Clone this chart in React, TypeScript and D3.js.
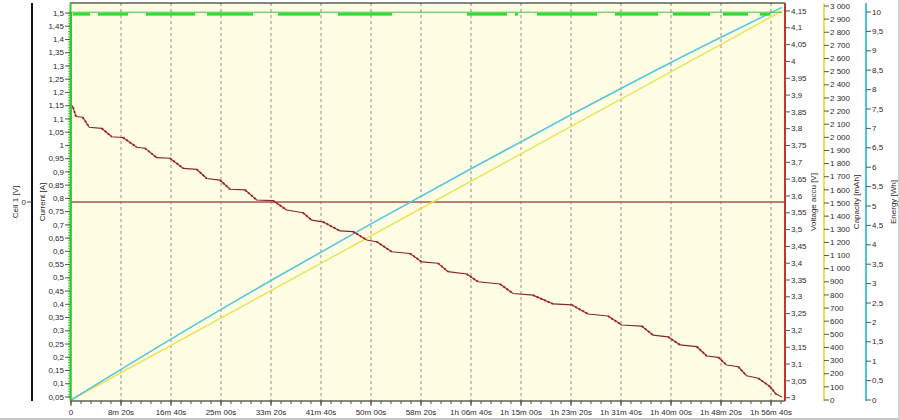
import React from 'react';
import * as d3 from 'd3';

// ---------- data ----------
const timeTickSeconds = [0, 500, 1000, 1500, 2000, 2500, 3000, 3500, 4000, 4500, 5000, 5500, 6000, 6500, 7000];
const timeTickLabels = ['0', '8m 20s', '16m 40s', '25m 00s', '33m 20s', '41m 40s', '50m 00s', '58m 20s', '1h 06m 40s', '1h 15m 00s', '1h 23m 20s', '1h 31m 40s', '1h 40m 00s', '1h 48m 20s', '1h 56m 40s'];

const currentTicks = d3.range(1, 31).map((i) => +(i * 0.05).toFixed(2));
const voltageTicks = d3.range(0, 24).map((i) => +(3 + i * 0.05).toFixed(2));
const capacityTicks = d3.range(0, 31).map((i) => i * 100);
const energyTicks = d3.range(0, 21).map((i) => i * 0.5);
const cellTicks = [0];

// Voltage accu [V] vs time [s]
const voltageTime = [0, 20, 50, 117, 183, 307, 407, 520, 657, 740, 857, 990, 1123, 1257, 1357, 1490, 1590, 1740, 1857, 2020, 2157, 2320, 2407, 2520, 2690, 2820, 2957, 3057, 3207, 3390, 3507, 3670, 3770, 3957, 4070, 4290, 4420, 4620, 4820, 5007, 5170, 5370, 5507, 5707, 5820, 5970, 6090, 6257, 6357, 6473, 6557, 6673, 6757, 6873, 6990, 7050, 7110];
const voltageValue = [3.873, 3.864, 3.836, 3.834, 3.804, 3.801, 3.776, 3.774, 3.745, 3.742, 3.714, 3.712, 3.682, 3.679, 3.652, 3.647, 3.62, 3.618, 3.588, 3.586, 3.558, 3.55, 3.528, 3.523, 3.496, 3.494, 3.469, 3.464, 3.434, 3.429, 3.404, 3.4, 3.375, 3.368, 3.345, 3.338, 3.31, 3.305, 3.279, 3.276, 3.249, 3.243, 3.216, 3.213, 3.186, 3.181, 3.157, 3.152, 3.124, 3.12, 3.097, 3.092, 3.065, 3.058, 3.033, 3.011, 3.002];

// Capacity [mAh]
const capacityTime = [0, 3500, 7110];
const capacityValue = [0, 1458, 2962];

// Energy [Wh]
const energyTime = [0, 1000, 2000, 3000, 4000, 5000, 6000, 7110];
const energyValue = [0, 1.57, 3.08, 4.54, 5.96, 7.35, 8.7, 10.12];

// Current [A]
const currentTime = [0, 5, 7110];
const currentValue = [0.0, 1.503, 1.503];
const currentNoiseStart = [17, 270, 750, 1360, 2070, 2670, 3960, 4440, 4660, 5440, 6020, 6520, 6890];
const currentNoiseEnd = [190, 570, 1240, 1820, 2490, 3210, 4360, 4470, 5260, 5870, 6390, 6770, 6990];
const currentNoiseLow = 1.49;
const currentNoiseHigh = 1.5;

// Cell 1 [V]
const cellTime = [0, 7140];
const cellValue = [0, 0];

// ---------- layout ----------
const W = 900, H = 420;
const L = 71, R = 785, T = 3, B = 401;

const x = d3.scaleLinear().domain([0, 7140]).range([L, R]);
const yCur = d3.scaleLinear().domain([0.05, 1.5]).range([397, 13]);
const yVolt = d3.scaleLinear().domain([3, 4.15]).range([397.7, 11]);
const yCap = d3.scaleLinear().domain([0, 3000]).range([400, 6]);
const yEn = d3.scaleLinear().domain([0, 10]).range([400, 12]);
const yCell = d3.scaleLinear().domain([-1, 1]).range([B, T]);

const comma = (v: number) => String(v).replace('.', ',');
const loc = d3.formatLocale({ decimal: ',', thousands: ' ', grouping: [3], currency: ['', ''] });
const capFmt = loc.format(',d');

const FONT = 'Liberation Sans, Arial, sans-serif';
const TXT = '#2a2a2a';

export default function App() {
  const line = (xs: number[], ys: number[], sy: d3.ScaleLinear<number, number>) =>
    d3.line<number>().x((_, i) => x(xs[i])).y((_, i) => sy(ys[i]))(xs.map((_, i) => i)) || '';

  const voltPath = line(voltageTime, voltageValue, yVolt);
  const capPath = line(capacityTime, capacityValue, yCap);
  const enPath = d3
    .line<number>()
    .curve(d3.curveMonotoneX)
    .x((_, i) => x(energyTime[i]))
    .y((_, i) => yEn(energyValue[i]))(energyTime.map((_, i) => i)) || '';
  const curPath = line(currentTime, currentValue, yCur);
  const cellPath = line(cellTime, cellValue, yCell);

  const drops: number[] = [];
  for (let i = 0; i < voltageTime.length - 1; i++) {
    if (voltageValue[i] - voltageValue[i + 1] > 0.012) drops.push(i);
  }

  const minorX = d3.range(0, 7141, 100);

  return (
    <div style={{ position: 'absolute', left: 0, top: 0 }}>
      <svg width={W} height={H} style={{ display: 'block', background: '#fff' }} fontFamily={FONT}>
        <defs>
          <clipPath id="plot">
            <rect x={L - 1} y={T} width={R - L + 1} height={B - T} />
          </clipPath>
        </defs>
        <rect x={L} y={T} width={R - L} height={B - T} fill="#fffee4" />
        {/* grid */}
        {timeTickSeconds.slice(1).map((t) => (
          <line key={t} x1={x(t)} x2={x(t)} y1={T} y2={B} stroke="#8c8c8c" strokeWidth={1} strokeDasharray="3,3" />
        ))}
        <g clipPath="url(#plot)">
          <path d={cellPath} fill="none" stroke="#a3544a" strokeWidth={1.3} />
          <path d={capPath} fill="none" stroke="#ede35c" strokeWidth={1.6} />
          <path d={enPath} fill="none" stroke="#55c6dc" strokeWidth={1.6} />
          {drops.map((i) => (
            <line key={i} x1={x(voltageTime[i])} y1={yVolt(voltageValue[i])} x2={x(voltageTime[i + 1])} y2={yVolt(voltageValue[i + 1])} stroke="#d82a2a" strokeWidth={2} strokeDasharray="2,2" />
          ))}
          <path d={voltPath} fill="none" stroke="#8a2828" strokeWidth={1.1} />
          <path d={curPath} fill="none" stroke="#3fbf3f" strokeWidth={1} />
          {currentNoiseStart.map((s, i) => (
            <rect key={s} x={x(s)} width={x(currentNoiseEnd[i]) - x(s)} y={yCur(currentNoiseHigh)} height={yCur(currentNoiseLow) - yCur(currentNoiseHigh)} fill="#2ee02e" />
          ))}
        </g>
        {/* frame */}
        <line x1={L - 1} x2={R} y1={T} y2={T} stroke="#111" strokeWidth={1.2} />
        <line x1={L - 1} x2={R} y1={B} y2={B} stroke="#111" strokeWidth={1.2} />

        {/* x axis */}
        {minorX.map((t) => (
          <line key={t} x1={x(t)} x2={x(t)} y1={B} y2={B + 3} stroke="#555" />
        ))}
        {timeTickSeconds.map((t, i) => (
          <g key={t}>
            <line x1={x(t)} x2={x(t)} y1={B} y2={B + 5} stroke="#444" />
            <text x={x(t)} y={415} fontSize={8} textAnchor="middle" fill={TXT}>{timeTickLabels[i]}</text>
          </g>
        ))}

        {/* Cell axis */}
        <line x1={32} x2={32} y1={T} y2={B} stroke="#111" strokeWidth={2} />
        {cellTicks.map((v) => (
          <g key={v}>
            <line x1={27} x2={32} y1={yCell(v)} y2={yCell(v)} stroke="#444" />
            <text x={26} y={yCell(v)} dy="0.33em" fontSize={8} textAnchor="end" fill={TXT}>{comma(v)}</text>
          </g>
        ))}
        <text transform={`translate(15,202) rotate(-90)`} fontSize={8} textAnchor="middle" dominantBaseline="central" fill={TXT}>Cell 1 [V]</text>

        {/* Current axis */}
        {d3.range(5, 151).map((k) => (
          <line key={k} x1={68} x2={70} y1={yCur(k / 100)} y2={yCur(k / 100)} stroke="#3ed23e" />
        ))}
        <line x1={70.5} x2={70.5} y1={T} y2={B} stroke="#22d022" strokeWidth={2} />
        {currentTicks.map((v) => (
          <g key={v}>
            <line x1={65} x2={70} y1={yCur(v)} y2={yCur(v)} stroke="#555" />
            <text x={64} y={yCur(v)} dy="0.33em" fontSize={8} textAnchor="end" fill={TXT}>{comma(v)}</text>
          </g>
        ))}
        <text transform={`translate(42,202) rotate(-90)`} fontSize={8} textAnchor="middle" dominantBaseline="central" fill={TXT}>Current [A]</text>

        {/* Voltage axis */}
        <line x1={R} x2={R} y1={T} y2={B} stroke="#c83232" strokeWidth={2} />
        {voltageTicks.map((v) => (
          <g key={v}>
            <line x1={R} x2={R + 5} y1={yVolt(v)} y2={yVolt(v)} stroke="#555" />
            <text x={791} y={yVolt(v)} dy="0.33em" fontSize={8} fill={TXT}>{comma(v)}</text>
          </g>
        ))}
        <text transform={`translate(813,202) rotate(-90)`} fontSize={8} textAnchor="middle" dominantBaseline="central" fill={TXT}>Voltage accu [V]</text>

        {/* Capacity axis */}
        <line x1={824} x2={824} y1={T} y2={B} stroke="#e6e05a" strokeWidth={2} />
        {capacityTicks.map((v) => (
          <g key={v}>
            <line x1={824} x2={829} y1={yCap(v)} y2={yCap(v)} stroke="#555" />
            <text x={830} y={yCap(v)} dy="0.33em" fontSize={8} fill={TXT}>{capFmt(v)}</text>
          </g>
        ))}
        <text transform={`translate(856,202) rotate(-90)`} fontSize={8} textAnchor="middle" dominantBaseline="central" fill={TXT}>Capacity [mAh]</text>

        {/* Energy axis */}
        <line x1={866} x2={866} y1={T} y2={B} stroke="#4cc6d8" strokeWidth={2} />
        {energyTicks.map((v) => (
          <g key={v}>
            <line x1={866} x2={871} y1={yEn(v)} y2={yEn(v)} stroke="#555" />
            <text x={872} y={yEn(v)} dy="0.33em" fontSize={8} fill={TXT}>{comma(v)}</text>
          </g>
        ))}
        <text transform={`translate(893,202) rotate(-90)`} fontSize={8} textAnchor="middle" dominantBaseline="central" fill={TXT}>Energy [Wh]</text>

        {/* window border */}
        <line x1={0} x2={W} y1={419} y2={419} stroke="#c4c4c4" strokeWidth={2} />
        <line x1={899} x2={899} y1={0} y2={H} stroke="#d0d0d0" strokeWidth={2} />
      </svg>
    </div>
  );
}
